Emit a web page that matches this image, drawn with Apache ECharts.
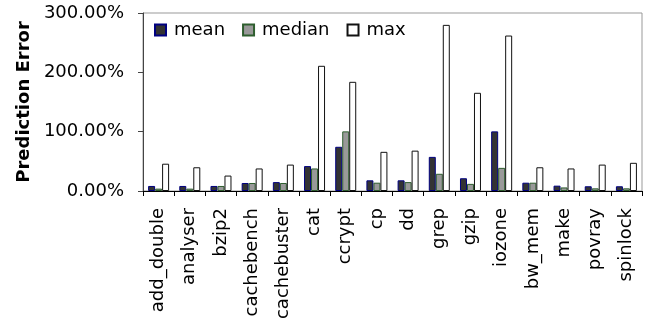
<!DOCTYPE html>
<html>
<head>
<meta charset="utf-8">
<script src="https://cdn.jsdelivr.net/npm/echarts@6/dist/echarts.min.js"></script>
<style>
  html, body { margin: 0; padding: 0; background: #fff; }
  #chart { width: 653px; height: 326px; }
</style>
</head>
<body>
<div id="chart"></div>
<script>
// Applications on the x axis
const categories = ['add_double', 'analyser', 'bzip2', 'cachebench', 'cachebuster', 'cat', 'ccrypt', 'cp', 'dd', 'grep', 'gzip', 'iozone', 'bw_mem', 'make', 'povray', 'spinlock'];

// Prediction error per application, in percent
const meanValues   = [8.5, 8.5, 8.5, 13.5, 15, 42, 74.5, 18, 18, 57.5, 21.5, 100.5, 14, 9, 8, 8];
const medianValues = [4, 4, 8.5, 13.5, 13.5, 38, 100.5, 14, 15, 29, 12, 39, 14, 6, 4.5, 4.5];
const maxValues    = [46, 40, 26, 38, 44.5, 211, 184, 66, 68, 280, 165.5, 262, 40, 38, 44.5, 47.5];

// Y axis ticks
const yTicks = [0, 100, 200, 300];

const FONT = 'DejaVu Sans';

const chart = echarts.init(document.getElementById('chart'));

function barSeries(name, data, fill, border) {
  return {
    name: name,
    type: 'bar',
    data: data,
    barWidth: 7,
    barGap: '0%',
    itemStyle: { color: fill, borderColor: border, borderWidth: 1 },
    emphasis: { disabled: true }
  };
}

chart.setOption({
  animation: false,
  textStyle: { fontFamily: FONT },
  grid: {
    left: 143, right: 11, top: 13, bottom: 135,
    outerBoundsMode: 'none',
    containLabel: false,
    show: true, borderColor: '#999', borderWidth: 1, backgroundColor: 'transparent'
  },
  legend: {
    left: 149, top: 16,
    icon: 'rect', itemWidth: 11, itemHeight: 11, itemGap: 17,
    textStyle: { fontFamily: FONT, fontSize: 18, color: '#000', padding: [0, 0, 0, 3] },
    data: ['mean', 'median', 'max']
  },
  xAxis: {
    type: 'category',
    data: categories,
    name: 'VRA Applications',
    nameLocation: 'middle',
    nameGap: 112,
    nameTextStyle: { fontFamily: FONT, fontSize: 19, fontWeight: 'bold', color: '#000' },
    axisLine: { lineStyle: { color: '#000', width: 1 } },
    axisTick: { show: true, length: 5, lineStyle: { color: '#000' } },
    axisLabel: { rotate: 90, fontSize: 18, color: '#000', margin: 17, fontFamily: FONT, interval: 0 }
  },
  yAxis: {
    type: 'value',
    min: 0, max: yTicks[yTicks.length - 1], interval: yTicks[1] - yTicks[0],
    name: 'Prediction Error',
    nameLocation: 'middle',
    nameGap: 110,
    nameRotate: 90,
    nameTextStyle: { fontFamily: FONT, fontSize: 18, fontWeight: 'bold', color: '#000' },
    axisLine: { show: true, lineStyle: { color: '#444', width: 1 } },
    axisTick: { show: true, length: 5, lineStyle: { color: '#444' } },
    splitLine: { show: false },
    axisLabel: {
      fontSize: 18, color: '#000', margin: 19, fontFamily: FONT,
      formatter: v => v.toFixed(2) + '%'
    }
  },
  series: [
    barSeries('mean', meanValues, '#333333', '#000080'),
    barSeries('median', medianValues, '#999999', '#2e5e2e'),
    barSeries('max', maxValues, '#ffffff', '#111111')
  ]
});
</script>
</body>
</html>
